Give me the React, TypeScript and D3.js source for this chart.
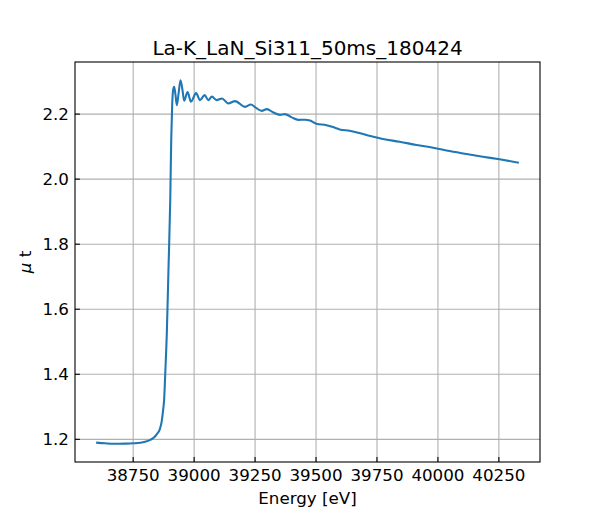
import React, { useEffect } from 'react'
import * as d3 from 'd3'

// energy [eV] and mu*t
const energy = [
  38598, 38635, 38676, 38717, 38750, 38779, 38799, 38820, 38836, 38848,
  38859, 38867, 38873, 38877, 38881, 38888, 38895, 38902, 38906, 38910,
  38914, 38918, 38923, 38929, 38936, 38944, 38952, 38959, 38973, 38987,
  39008, 39024, 39043, 39058, 39073, 39092, 39114, 39140, 39168, 39209,
  39233, 39257, 39277, 39298, 39325, 39352, 39372, 39400, 39427, 39454,
  39475, 39502, 39543, 39569, 39597, 39638, 39707, 39775, 39843, 39912,
  39980, 40048, 40117, 40184, 40253, 40332,
]
const muT = [
  1.1899, 1.1877, 1.1862, 1.1868, 1.1877, 1.1893, 1.1923, 1.1985, 1.2061, 1.2169,
  1.2307, 1.2552, 1.292, 1.3227, 1.3932, 1.528, 1.7306, 1.936, 2.12, 2.23,
  2.275, 2.2837, 2.262, 2.2276, 2.262, 2.3043, 2.275, 2.2414, 2.2675, 2.2383,
  2.2644, 2.243, 2.2583, 2.243, 2.2537, 2.243, 2.2482, 2.2328, 2.2398, 2.2223,
  2.2297, 2.2174, 2.21, 2.2152, 2.205, 2.1977, 2.2, 2.19, 2.1822, 2.1828,
  2.18, 2.17, 2.166, 2.16, 2.153, 2.149, 2.1356, 2.1233, 2.115, 2.105,
  2.0966, 2.0865, 2.0773, 2.069, 2.0609, 2.0506,
]
const xTicks = [38750, 39000, 39250, 39500, 39750, 40000, 40250]
const yTicks = [1.2, 1.4, 1.6, 1.8, 2.0, 2.2]

const title = 'La-K_LaN_Si311_50ms_180424'

const W = 600
const H = 520
const margin = { top: 62, right: 60, bottom: 58, left: 75 }
const font = '"DejaVu Sans", sans-serif'

export default function App() {
  useEffect(() => {
    document.body.style.margin = '0'
  }, [])

  const x0 = margin.left
  const x1 = W - margin.right
  const y0 = margin.top
  const y1 = H - margin.bottom

  // matplotlib-style 5% padding around the data
  const [xmin, xmax] = d3.extent(energy) as [number, number]
  const [ymin, ymax] = d3.extent(muT) as [number, number]
  const xpad = (xmax - xmin) * 0.05
  const ypad = (ymax - ymin) * 0.05

  const x = d3.scaleLinear().domain([xmin - xpad, xmax + xpad]).range([x0, x1])
  const y = d3.scaleLinear().domain([ymin - ypad, ymax + ypad]).range([y1, y0])

  const line = d3.line<number>()
    .x((_, i) => x(energy[i]))
    .y(d => y(d))
    .curve(d3.curveMonotoneX)

  return (
    <svg width={W} height={H} style={{ display: 'block', background: 'white' }} fontFamily={font}>
      {xTicks.map(t => (
        <line key={'gx' + t} x1={x(t)} x2={x(t)} y1={y0} y2={y1} stroke="#b0b0b0" strokeWidth={1.1} />
      ))}
      {yTicks.map(t => (
        <line key={'gy' + t} x1={x0} x2={x1} y1={y(t)} y2={y(t)} stroke="#b0b0b0" strokeWidth={1.1} />
      ))}

      <path d={line(muT) ?? ''} fill="none" stroke="#1f77b4" strokeWidth={2.08} strokeLinejoin="round" />

      {xTicks.map(t => (
        <g key={'tx' + t}>
          <line x1={x(t)} x2={x(t)} y1={y1} y2={y1 - 4.9} stroke="black" strokeWidth={1.1} />
          <text x={x(t)} y={481} textAnchor="middle" fontSize={16.7}>{t}</text>
        </g>
      ))}
      {yTicks.map(t => (
        <g key={'ty' + t}>
          <line x1={x0} x2={x0 + 4.9} y1={y(t)} y2={y(t)} stroke="black" strokeWidth={1.1} />
          <text x={69} y={y(t) + 6} textAnchor="end" fontSize={16.7}>{t.toFixed(1)}</text>
        </g>
      ))}

      <rect x={x0} y={y0} width={x1 - x0} height={y1 - y0} fill="none" stroke="black" strokeWidth={1.1} />

      <text x={(x0 + x1) / 2} y={55} textAnchor="middle" fontSize={20}>{title}</text>
      <text x={(x0 + x1) / 2} y={504} textAnchor="middle" fontSize={16.7}>Energy [eV]</text>
      <text transform={`translate(31,${(y0 + y1) / 2}) rotate(-90)`} textAnchor="middle" fontSize={16.7}>
        <tspan fontStyle="italic">μ</tspan> t
      </text>
    </svg>
  )
}
